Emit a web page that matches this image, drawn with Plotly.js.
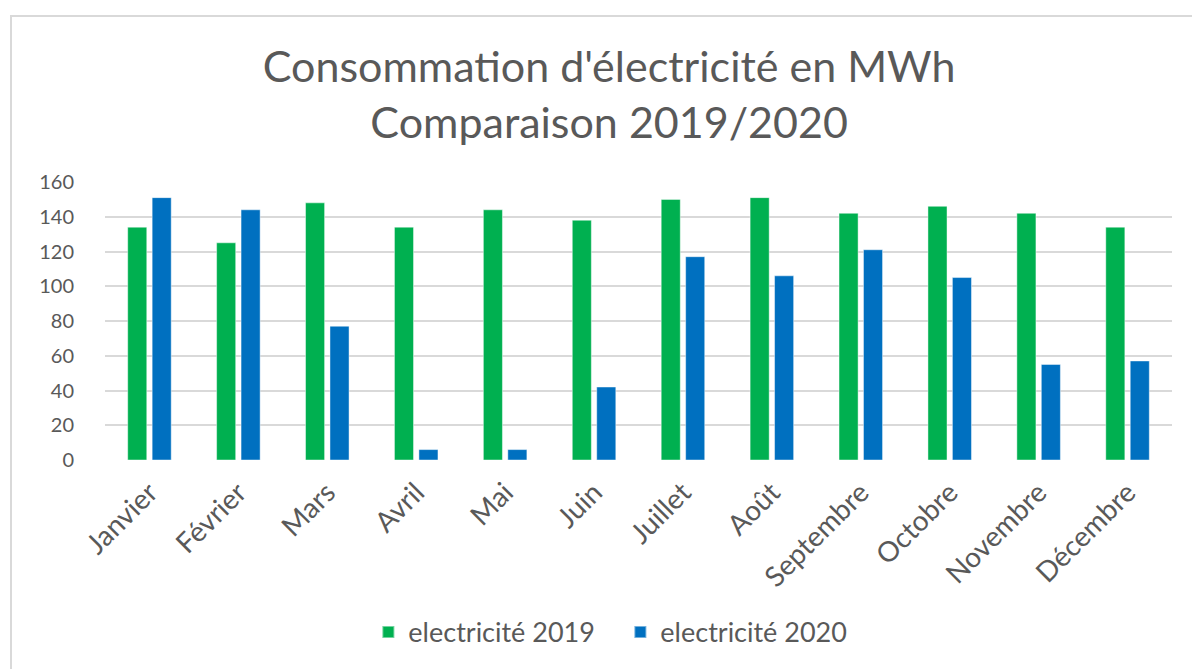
<!DOCTYPE html>
<html>
<head>
<meta charset="utf-8">
<script src="https://cdn.plot.ly/plotly-3.0.1.min.js"></script>
<style>
  body { margin: 0; background: #fff; }
  #frame {
    position: absolute; left: 10px; top: 15px; width: 1200px; height: 700px;
    border-left: 2px solid #d9d9d9; border-top: 2px solid #d9d9d9;
  }
  #chart { position: absolute; left: 0; top: 0; width: 1192px; height: 669px; }
</style>
</head>
<body>
<div id="frame"></div>
<div id="chart"></div>
<script>
// mois et consommations (MWh)
const mois = ['Janvier', 'Février', 'Mars', 'Avril', 'Mai', 'Juin',
  'Juillet', 'Août', 'Septembre', 'Octobre', 'Novembre', 'Décembre'];
const elec2019 = [134, 125, 148, 134, 144, 138, 150, 151, 142, 146, 142, 134];
const elec2020 = [151, 144, 77, 6, 6, 42, 117, 106, 121, 105, 55, 57];
const yTicks = [0, 20, 40, 60, 80, 100, 120, 140, 160];

const fontFam = 'Lato, sans-serif';
const grisTexte = '#595959';

const trace2019 = {
  x: mois, y: elec2019, type: 'bar', name: 'electricité 2019',
  marker: { color: '#00b050', line: { color: 'rgba(255,255,255,0.45)', width: 1 } },
  hoverinfo: 'none'
};
const trace2020 = {
  x: mois, y: elec2020, type: 'bar', name: 'electricité 2020',
  marker: { color: '#0070c0', line: { color: 'rgba(255,255,255,0.45)', width: 1 } },
  hoverinfo: 'none'
};

const layout = {
  width: 1192, height: 669,
  paper_bgcolor: 'rgba(0,0,0,0)',
  plot_bgcolor: 'rgba(0,0,0,0)',
  margin: { l: 105, r: 20, t: 182, b: 209 },
  font: { family: fontFam, color: grisTexte },
  title: {
    text: "Consommation d'électricité en MWh<br>Comparaison 2019/2020",
    font: { family: fontFam, size: 43, color: grisTexte },
    x: 0.511, xanchor: 'center', y: 0.877, yanchor: 'middle'
  },
  barmode: 'group',
  bargap: 0.45,
  bargroupgap: 0.22,
  xaxis: {
    tickangle: -45,
    tickfont: { size: 28, color: grisTexte },
    showgrid: false, zeroline: false, showline: false,
    ticks: 'outside', ticklen: 4, tickcolor: 'rgba(0,0,0,0)'
  },
  yaxis: {
    range: [0, 160], tickvals: yTicks,
    tickfont: { size: 20, color: grisTexte },
    showgrid: true, gridcolor: '#d9d9d9', gridwidth: 2,
    zeroline: false, showline: false,
    ticks: 'outside', ticklen: 26, tickcolor: 'rgba(0,0,0,0)'
  },
  legend: {
    orientation: 'h', x: 0.483, xanchor: 'center', y: -0.62, yanchor: 'middle',
    font: { size: 27, color: grisTexte },
    entrywidth: 207, entrywidthmode: 'pixels',
    itemsizing: 'constant'
  },
  showlegend: true
};

Plotly.newPlot('chart', [trace2019, trace2020], layout, { displayModeBar: false, staticPlot: true });
</script>
</body>
</html>
